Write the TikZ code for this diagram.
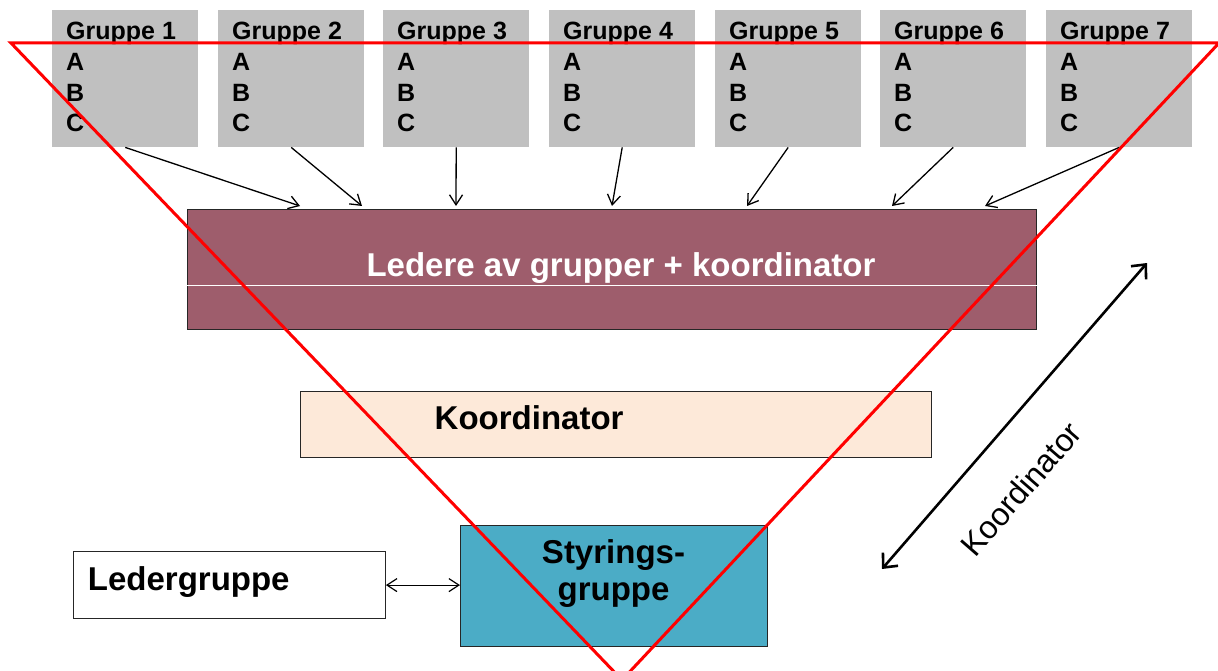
\documentclass[tikz,border=0pt]{standalone}
\usepackage{fontspec}
\setmainfont{Liberation Sans}
\usetikzlibrary{arrows.meta}
\definecolor{grpgray}{RGB}{192,192,192}
\definecolor{maroon}{RGB}{158,93,108}
\definecolor{peach}{RGB}{253,233,217}
\definecolor{teal}{RGB}{75,172,198}
\definecolor{redline}{RGB}{255,0,0}
\tikzset{
  grp/.style={fill=grpgray, draw=none, minimum width=146, minimum height=137, anchor=north west, inner sep=0},
  gtxt/.style={anchor=base west, inner sep=0, font=\fontsize{25}{30}\selectfont\bfseries},
  gar/.style={line width=1.3pt, -{Straight Barb[length=10pt,width=13pt]}},
  boxout/.style={draw=black!85, line width=1.2pt, anchor=north west, inner sep=0},
  bigtxt/.style={inner sep=0, font=\fontsize{33}{38}\selectfont\bfseries},
}
\begin{document}
\begin{tikzpicture}[x=1pt,y=-1pt]
\useasboundingbox (0,0) rectangle (1218,671);
% group boxes
\foreach \i/\x in {1/52,2/218,3/383,4/549,5/715,6/880,7/1046}{
  \node[grp] (g\i) at (\x,10) {};
  \node[gtxt] (g\i a) at (\x+14,40) {Gruppe \i};
  \node[gtxt] (g\i b) at (\x+14,71) {A};
  \node[gtxt] (g\i c) at (\x+14,101.5) {B};
  \node[gtxt] (g\i d) at (\x+14,132) {C};
}
% leaders box
\node[boxout, fill=maroon, minimum width=849, minimum height=120] (lead) at (187,209) {};
\draw[white, line width=0.9pt] ([yshift=-76.3]lead.north west) -- ([yshift=-76.3]lead.north east);
\node[bigtxt, text=white, anchor=base] (leadt) at (621,276) {Ledere av grupper + koordinator};
% arrows from groups
\foreach \i/\dx in {1/113,2/175,3/269,4/425,5/560,6/705,7/798}{
  \draw[gar] (g\i.south) -- ([xshift=\dx,yshift=3]lead.north west);
}
% koordinator box
\node[boxout, fill=peach, minimum width=631, minimum height=66] (koord) at (300,391) {};
\node[bigtxt, anchor=base west] (koordt) at (434.5,429.3) {Koordinator};
% styringsgruppe
\node[boxout, fill=teal, minimum width=307, minimum height=121] (sty) at (460,525) {};
\node[bigtxt, anchor=base] (styt1) at (613.5,563.3) {Styrings-};
\node[bigtxt, anchor=base] (styt2) at (613.5,600.5) {gruppe};
% ledergruppe
\node[boxout, fill=white, minimum width=312, minimum height=67] (ledg) at (72.7,551) {};
\node[bigtxt, anchor=base west] (ledgt) at (87.7,590.7) {Ledergruppe};
\draw[line width=1.2pt, {Straight Barb[length=10pt,width=13pt]}-{Straight Barb[length=10pt,width=13pt]}] (ledg.east) -- (ledg.east -| sty.west);
% diagonal koordinator arrow
\coordinate (dtop) at (1147,263);
\coordinate (dbot) at (882,569);
\draw[line width=2.6pt, {Straight Barb[length=11pt,width=20pt]}-{Straight Barb[length=11pt,width=20pt]}] (dbot) -- (dtop);
\node[rotate=49, inner sep=0, font=\fontsize{32}{36}\selectfont] (dlab) at (1021,489) {Koordinator};
% red triangle
\coordinate (tl) at (11,43);
\coordinate (tr) at (1219,43);
\coordinate (tb) at (622,680);
\draw[redline, line width=3pt] (tl) -- (tr) -- (tb) -- cycle;
\end{tikzpicture}
\end{document}
